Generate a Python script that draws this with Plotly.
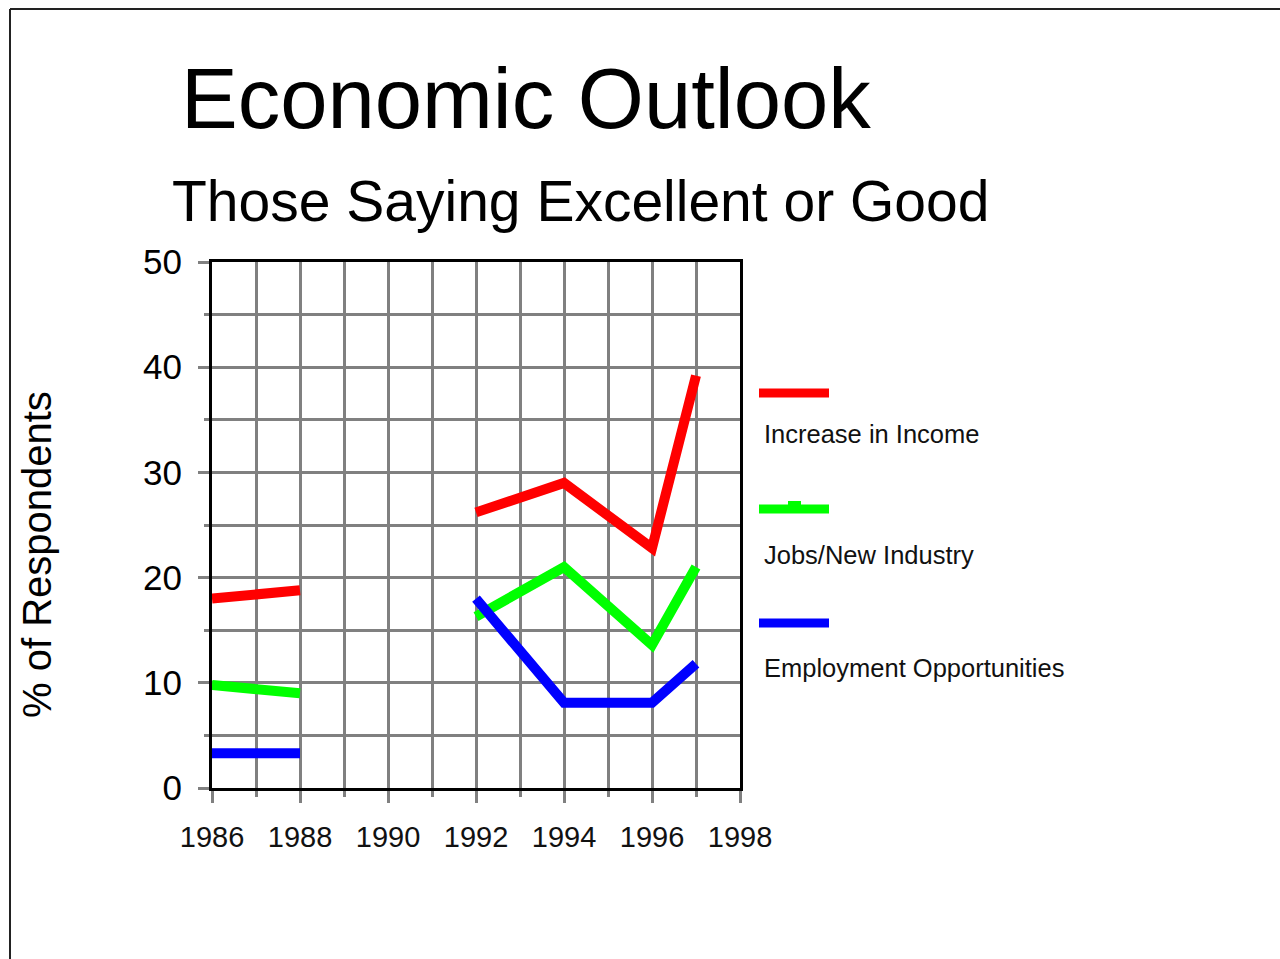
import plotly.graph_objects as go

# ---- data ----
years = [1986, 1988, 1990, 1992, 1994, 1996, 1997]
income = [18.0, 18.8, None, 26.2, 29.0, 22.8, 39.2]
jobs = [9.8, 9.0, None, 16.3, 21.0, 13.6, 21.0]
employment = [3.3, 3.3, None, 18.0, 8.1, 8.1, 11.8]
series_names = ["Increase in Income", "Jobs/New Industry", "Employment Opportunities"]
series_colors = ["#ff0000", "#00ff00", "#0000ff"]
x_tick_vals = [1986, 1988, 1990, 1992, 1994, 1996, 1998]
y_tick_vals = [0, 10, 20, 30, 40, 50]

W, H = 1280, 959
L, R, T, B = 212, 740, 262, 788
FONT = "Liberation Sans, Arial, sans-serif"


def px(x):
    return (x - L) / (R - L)


def py(y):
    return (B - y) / (B - T)


fig = go.Figure()
for name, vals, col in zip(series_names, [income, jobs, employment], series_colors):
    fig.add_trace(go.Scatter(x=years, y=vals, mode="lines", name=name,
                             line=dict(color=col, width=10), connectgaps=False,
                             showlegend=False))

grid = "#808080"
fig.update_layout(
    width=W, height=H,
    margin=dict(l=L, r=W - R, t=T, b=H - B, pad=0),
    paper_bgcolor="white", plot_bgcolor="white",
    font=dict(family=FONT, color="black"),
    xaxis=dict(range=[1986, 1998], tickvals=x_tick_vals, showgrid=True,
               gridcolor=grid, gridwidth=3, ticks="outside", ticklen=12,
               tickwidth=3, tickcolor=grid, showline=True, linecolor="black",
               linewidth=3, mirror=True, zeroline=False,
               tickfont=dict(size=29, family=FONT, color="#111"),
               ticklabelstandoff=9,
               minor=dict(dtick=1, showgrid=True, gridcolor=grid, gridwidth=3,
                          ticks="outside", ticklen=6, tickwidth=3, tickcolor=grid)),
    yaxis=dict(range=[0, 50], tickvals=y_tick_vals, showgrid=True,
               gridcolor=grid, gridwidth=3, ticks="outside", ticklen=11,
               tickwidth=3, tickcolor=grid, showline=True, linecolor="black",
               linewidth=3, mirror=True, zeroline=False,
               tickfont=dict(size=35, family=FONT, color="black"),
               ticklabelstandoff=9,
               minor=dict(dtick=5, showgrid=True, gridcolor=grid, gridwidth=3,
                          ticks="outside", ticklen=5, tickwidth=3, tickcolor=grid)),
)

shapes = []
# outer frame (top and left edges visible)
shapes.append(dict(type="line", xref="paper", yref="paper", x0=px(10), x1=px(1285),
                   y0=py(9), y1=py(9), line=dict(color="#222", width=2)))
shapes.append(dict(type="line", xref="paper", yref="paper", x0=px(10), x1=px(10),
                   y0=py(9), y1=py(965), line=dict(color="#222", width=2)))

# legend samples
leg_line_y = [393, 509, 623]
leg_text_y = [434, 555, 668]
for col, ly in zip(series_colors, leg_line_y):
    shapes.append(dict(type="line", xref="paper", yref="paper", x0=px(759), x1=px(829),
                       y0=py(ly), y1=py(ly), line=dict(color=col, width=9)))
# small marker bump on green legend sample
shapes.append(dict(type="rect", xref="paper", yref="paper", x0=px(788), x1=px(801),
                   y0=py(505), y1=py(501), line=dict(width=0), fillcolor="#00ff00"))
fig.update_layout(shapes=shapes)

annotations = [
    dict(text="Economic Outlook", x=px(179), y=py(98), xanchor="left", yanchor="middle",
         font=dict(size=85, family=FONT, color="black")),
    dict(text="Those Saying Excellent or Good", x=px(170), y=py(201), xanchor="left",
         yanchor="middle", font=dict(size=57, family=FONT, color="black")),
    dict(text="% of Respondents", x=px(37), y=py(555), xanchor="center", yanchor="middle",
         textangle=-90, font=dict(size=40, family=FONT, color="black")),
]
for name, ty in zip(series_names, leg_text_y):
    annotations.append(dict(text=name, x=px(762), y=py(ty), xanchor="left", yanchor="middle",
                            font=dict(size=25.5, family=FONT, color="#111")))
for a in annotations:
    a.update(xref="paper", yref="paper", showarrow=False)
fig.update_layout(annotations=annotations)

fig.write_html("out.html")
